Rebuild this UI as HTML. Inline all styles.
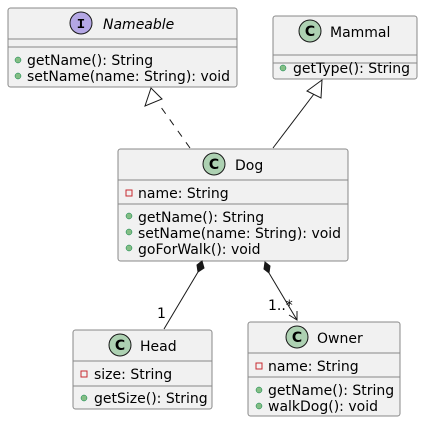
<!DOCTYPE html>
<html><head><style>
html,body{margin:0;padding:0;background:#fff;}
svg text{font-family:"DejaVu Sans","Liberation Sans",sans-serif;font-size:14px;fill:#000;}
</style></head><body>
<svg width="423" height="423" viewBox="0 0 423 423" xmlns="http://www.w3.org/2000/svg">
<g stroke="#888" stroke-width="1" fill="#F1F1F1">
<rect x="8" y="8" width="229" height="79" rx="2.5"/>
<rect x="273" y="16" width="144" height="63" rx="2.5"/>
<rect x="118" y="149" width="230" height="112" rx="2.5"/>
<rect x="73" y="330" width="139" height="79" rx="2.5"/>
<rect x="248" y="322" width="152" height="94" rx="2.5"/>
</g>
<g stroke="#888" stroke-width="1">
<line x1="8" y1="39" x2="237" y2="39"/><line x1="8" y1="47" x2="237" y2="47"/>
<line x1="273" y1="55" x2="417" y2="55"/><line x1="273" y1="63" x2="417" y2="63"/>
<line x1="118" y1="180" x2="348" y2="180"/><line x1="118" y1="204" x2="348" y2="204"/>
<line x1="73" y1="361" x2="212" y2="361"/><line x1="73" y1="386" x2="212" y2="386"/>
<line x1="248" y1="353" x2="400" y2="353"/><line x1="248" y1="377" x2="400" y2="377"/>
</g>
<g stroke="#181818" stroke-width="1">
<circle cx="81" cy="23" r="11" fill="#B4A7E5"/>
<circle cx="310" cy="31" r="11" fill="#ADD1B2"/>
<circle cx="214" cy="164" r="11" fill="#ADD1B2"/>
<circle cx="120" cy="345" r="11" fill="#ADD1B2"/>
<circle cx="297" cy="337" r="11" fill="#ADD1B2"/>
</g>
<g text-anchor="middle">
<text x="81" y="28" style="font-size:14px;font-family:'Liberation Mono',monospace;font-weight:bold">I</text>
<text x="310" y="36" style="font-size:14px;font-weight:bold">C</text>
<text x="214" y="169" style="font-size:14px;font-weight:bold">C</text>
<text x="120" y="350" style="font-size:14px;font-weight:bold">C</text>
<text x="297" y="342" style="font-size:14px;font-weight:bold">C</text>
</g>
<text x="103" y="29" style="font-style:italic">Nameable</text>
<text x="330" y="37">Mammal</text>
<text x="235" y="170">Dog</text>
<text x="140" y="351">Head</text>
<text x="317" y="343">Owner</text>
<g fill="#84BE84" stroke="#038048" stroke-width="0.5">
<circle cx="18" cy="60" r="3"/><circle cx="18" cy="76" r="3"/>
<circle cx="283" cy="68" r="3"/>
<circle cx="129" cy="216" r="3"/><circle cx="129" cy="232" r="3"/><circle cx="129" cy="248" r="3"/>
<circle cx="84" cy="398" r="3"/>
<circle cx="259" cy="390" r="3"/><circle cx="259" cy="406" r="3"/>
</g>
<g fill="none" stroke="#C82930" stroke-width="1">
<rect x="126" y="190" width="6" height="6"/>
<rect x="81" y="371" width="6" height="6"/>
<rect x="256" y="363" width="6" height="6"/>
</g>
<text x="27" y="65">getName(): String</text>
<text x="27" y="81">setName(name: String): void</text>
<text x="293" y="73">getType(): String</text>
<text x="138" y="198">name: String</text>
<text x="138" y="222">getName(): String</text>
<text x="138" y="238">setName(name: String): void</text>
<text x="138" y="254">goForWalk(): void</text>
<text x="94" y="379">size: String</text>
<text x="94" y="403">getSize(): String</text>
<text x="268" y="371">name: String</text>
<text x="268" y="395">getName(): String</text>
<text x="268" y="411">walkDog(): void</text>
<g stroke="#181818" stroke-width="1" fill="none">
<line x1="190" y1="148" x2="158" y2="103" stroke-dasharray="7,7"/>
<polygon points="151,88 145,106 162,99" fill="#fff"/>
<line x1="273" y1="148" x2="314" y2="94"/>
<polygon points="322,80 307,91 321,98" fill="#fff"/>
<line x1="198" y1="272" x2="164" y2="329"/>
<polygon points="202,261 197,265 198,272 204,268" fill="#181818"/>
<line x1="269" y1="273" x2="297" y2="320"/>
<polygon points="265,262 264,269 269,273 270,266" fill="#181818"/>
<polyline points="289,315 297,320 297,311"/>
</g>
<text x="157" y="318">1</text>
<text x="268" y="310">1..*</text>
</svg>
</body></html>
